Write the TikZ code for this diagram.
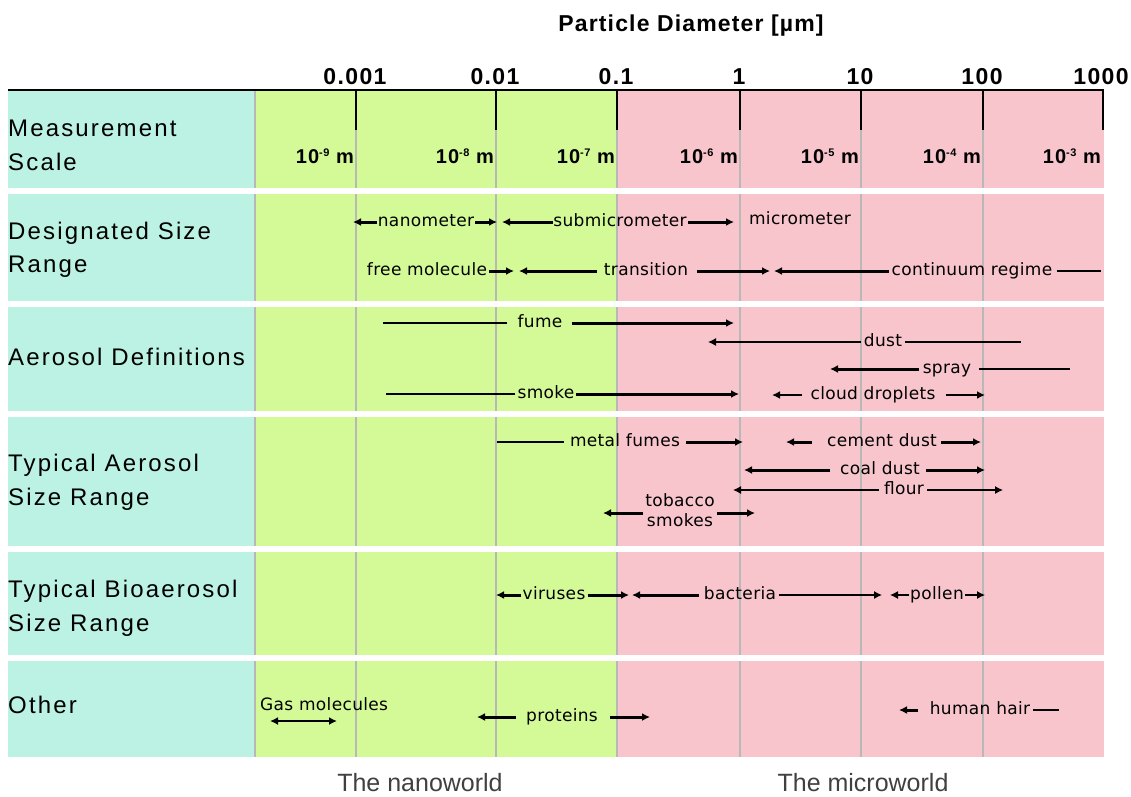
\documentclass[tikz,border=0pt]{standalone}
\usepackage{fontspec}
\usetikzlibrary{arrows.meta}
\newfontfamily\labfont{DejaVu Sans}[LetterSpace=2]
\newfontfamily\rowfont{Liberation Sans}[LetterSpace=9]
\newfontfamily\hdrfont{Liberation Sans}[LetterSpace=6]
\newfontfamily\titlefont{Liberation Sans}[LetterSpace=5]
\newfontfamily\worldfont{Liberation Sans}
\definecolor{cTeal}{HTML}{BCF2E3}
\definecolor{cGreen}{HTML}{D4FA98}
\definecolor{cPink}{HTML}{F8C5CC}
\definecolor{cGrid}{HTML}{B8B8B8}
\begin{document}
\begin{tikzpicture}[x=1pt,y=-1pt,
  >={Latex[length=8pt,width=8pt]},
  lab/.style={font=\labfont\fontsize{17}{20}\selectfont, inner sep=0pt, text height=9.3pt, text depth=0pt},
  labtwo/.style={font=\labfont\fontsize{17}{20}\selectfont, inner sep=0pt, align=center},
  rowlab/.style={font=\rowfont\fontsize{24}{28}\selectfont, inner sep=0pt, anchor=base west},
  ticklab/.style={font=\hdrfont\bfseries\fontsize{23}{26}\selectfont, inner sep=0pt, anchor=base},
  meas/.style={font=\titlefont\bfseries\fontsize{20}{22}\selectfont, inner sep=0pt, anchor=base east},
  world/.style={font=\worldfont\fontsize{25}{28}\selectfont, text=black!75, inner sep=0pt},
  thk/.style={line width=3pt}, med/.style={line width=2pt}, thn/.style={line width=1.2pt},
  gridline/.style={cGrid, line width=1.2pt}]
\useasboundingbox (0,0) rectangle (1131,796);
\fill[white] (0,0) rectangle (1131,796);
% rows
\foreach \t/\b in {90/188,194/301,307/411,417/546,552/655,661/757}{
  \fill[cTeal] (8,\t) rectangle (255,\b);
  \fill[cGreen] (255,\t) rectangle (617,\b);
  \fill[cPink] (617,\t) rectangle (1104,\b);
  \foreach \x in {255,356,496,617,740,861,983}{
    \draw[gridline] (\x,\t) -- (\x,\b);
  }
}
% top axis
\draw[line width=1.5pt] (8,90) -- (1104,90);
\foreach \x in {356,496,617,740,861,983,1103}{
  \draw[line width=1.5pt] (\x,90) -- (\x,130);
}
\node[font=\titlefont\bfseries\fontsize{23}{26}\selectfont, inner sep=0pt] (title) at (691,26) {Particle Diameter [µm]};
\node[ticklab] (t1) at (355,84) {0.001};
\node[ticklab] (t2) at (495,84) {0.01};
\node[ticklab] (t3) at (616,84) {0.1};
\node[ticklab] (t4) at (739,84) {1};
\node[ticklab] (t5) at (860,84) {10};
\node[ticklab] (t6) at (982,84) {100};
\node[ticklab] (t7) at (1101,84) {1000};
\node[meas] (m1) at (354,163) {10\raisebox{7pt}{\fontsize{11}{11}\selectfont -9} m};
\node[meas] (m2) at (494,163) {10\raisebox{7pt}{\fontsize{11}{11}\selectfont -8} m};
\node[meas] (m3) at (615,163) {10\raisebox{7pt}{\fontsize{11}{11}\selectfont -7} m};
\node[meas] (m4) at (738,163) {10\raisebox{7pt}{\fontsize{11}{11}\selectfont -6} m};
\node[meas] (m5) at (859,163) {10\raisebox{7pt}{\fontsize{11}{11}\selectfont -5} m};
\node[meas] (m6) at (981,163) {10\raisebox{7pt}{\fontsize{11}{11}\selectfont -4} m};
\node[meas] (m7) at (1101,163) {10\raisebox{7pt}{\fontsize{11}{11}\selectfont -3} m};
% row labels
\node[rowlab] (r1a) at (8,136) {Measurement};
\node[rowlab] (r1b) at (8,170) {Scale};
\node[rowlab] (r2a) at (8,239) {Designated Size};
\node[rowlab] (r2b) at (8,272) {Range};
\node[rowlab] (r3a) at (8,365) {Aerosol Definitions};
\node[rowlab] (r4a) at (8,471) {Typical Aerosol};
\node[rowlab] (r4b) at (8,505) {Size Range};
\node[rowlab] (r5a) at (8,597) {Typical Bioaerosol};
\node[rowlab] (r5b) at (8,631) {Size Range};
\node[rowlab] (r6a) at (8,713) {Other};
% ---- Designated size range
\node[lab] (nano) at (426,222) {nanometer};
\coordinate (nanoL) at (353,222); \coordinate (nanoR) at (497,222);
\draw[thk,->] ([xshift=-1pt]nano.west) -- (nanoL);
\draw[thk,->] ([xshift=1pt]nano.east) -- (nanoR);
\node[lab] (submic) at (620,222) {submicrometer};
\coordinate (submicL) at (502,222); \coordinate (submicR) at (734,222);
\draw[thk,->] (submic.west) -- (submicL);
\draw[thk,->] ([xshift=1pt]submic.east) -- (submicR);
\node[lab] (micro) at (800,220) {micrometer};
\node[lab] (free) at (427,271) {free molecule};
\coordinate (freeR) at (514,271);
\draw[thk,->] ([xshift=2pt]free.east) -- (freeR);
\node[lab] (trans) at (646,271) {transition};
\coordinate (transL) at (519,271); \coordinate (transR) at (770,271);
\draw[thk,->] ([xshift=-7pt]trans.west) -- (transL);
\draw[thk,->] ([xshift=9pt]trans.east) -- (transR);
\node[lab] (cont) at (972,271) {continuum regime};
\coordinate (contL) at (774,271); \coordinate (contR) at (1101,271);
\draw[thk,->] ([xshift=-3pt]cont.west) -- (contL);
\draw[thn] ([xshift=4pt]cont.east) -- (contR);
% ---- Aerosol definitions
\node[lab] (fume) at (540,323) {fume};
\coordinate (fumeL) at (383,323); \coordinate (fumeR) at (734,323);
\draw[thn] ([xshift=-10pt]fume.west) -- (fumeL);
\draw[thk,->] ([xshift=9pt]fume.east) -- (fumeR);
\node[lab] (dust) at (883,342) {dust};
\coordinate (dustL) at (708,342); \coordinate (dustR) at (1021,342);
\draw[thn,->] ([xshift=-3pt]dust.west) -- (dustL);
\draw[thn] ([xshift=3pt]dust.east) -- (dustR);
\node[lab] (spray) at (947,369) {spray};
\coordinate (sprayL) at (830,369); \coordinate (sprayR) at (1070,369);
\draw[thk,->] ([xshift=-4pt]spray.west) -- (sprayL);
\draw[thn] ([xshift=8pt]spray.east) -- (sprayR);
\node[lab] (smoke) at (546,394) {smoke};
\coordinate (smokeL) at (386,394); \coordinate (smokeR) at (739,394);
\draw[thn] ([xshift=-2pt]smoke.west) -- (smokeL);
\draw[thk,->] ([xshift=1pt]smoke.east) -- (smokeR);
\node[lab] (cloud) at (873,395) {cloud droplets};
\coordinate (cloudL) at (772,395); \coordinate (cloudR) at (985,395);
\draw[med,->] ([xshift=-8pt]cloud.west) -- (cloudL);
\draw[med,->] ([xshift=10pt]cloud.east) -- (cloudR);
% ---- Typical aerosol size range
\node[lab] (metal) at (625,442) {metal fumes};
\coordinate (metalL) at (497,442); \coordinate (metalR) at (743,442);
\draw[thn] ([xshift=-6pt]metal.west) -- (metalL);
\draw[thk,->] ([xshift=6pt]metal.east) -- (metalR);
\node[lab] (cement) at (882,442) {cement dust};
\coordinate (cementL) at (786,442); \coordinate (cementR) at (981,442);
\draw[thk,->] ([xshift=-15pt]cement.west) -- (cementL);
\draw[thk,->] ([xshift=4pt]cement.east) -- (cementR);
\node[lab] (coal) at (880,470) {coal dust};
\coordinate (coalL) at (744,470); \coordinate (coalR) at (985,470);
\draw[thk,->] ([xshift=-10pt]coal.west) -- (coalL);
\draw[thk,->] ([xshift=6pt]coal.east) -- (coalR);
\node[lab] (flour) at (904,490) {flour};
\coordinate (flourL) at (733,490); \coordinate (flourR) at (1003,490);
\draw[thn,->] ([xshift=-5pt]flour.west) -- (flourL);
\draw[thn,->] ([xshift=3pt]flour.east) -- (flourR);
\node[labtwo] (tob) at (680,510) {tobacco\\smokes};
\coordinate (tobL) at (603,513); \coordinate (tobR) at (755,513);
\draw[thk,->] ([xshift=-2pt,yshift=-3pt]tob.west) -- (tobL);
\draw[thk,->] ([xshift=2pt,yshift=-3pt]tob.east) -- (tobR);
% ---- Bioaerosol
\node[lab] (vir) at (554,595) {viruses};
\coordinate (virL) at (496,595); \coordinate (virR) at (629,595);
\draw[thk,->] ([xshift=-1pt]vir.west) -- (virL);
\draw[thk,->] ([xshift=2pt]vir.east) -- (virR);
\node[lab] (bac) at (740,595) {bacteria};
\coordinate (bacL) at (632,595); \coordinate (bacR) at (882,595);
\draw[thk,->] ([xshift=-5pt]bac.west) -- (bacL);
\draw[thn,->] ([xshift=3pt]bac.east) -- (bacR);
\node[lab] (pol) at (937,595) {pollen};
\coordinate (polL) at (890,595); \coordinate (polR) at (985,595);
\draw[thn,->] ([xshift=-1pt]pol.west) -- (polL);
\draw[thn,->] ([xshift=1pt]pol.east) -- (polR);
% ---- Other
\node[lab, anchor=base west] (gas) at (260,710) {Gas molecules};
\coordinate (gasL) at (270,721); \coordinate (gasR) at (337,721);
\draw[med,<->] (gasL) -- (gasR);
\node[lab] (prot) at (562,717) {proteins};
\coordinate (protL) at (477,717); \coordinate (protR) at (650,717);
\draw[thk,->] ([xshift=-10pt]prot.west) -- (protL);
\draw[thk,->] ([xshift=12pt]prot.east) -- (protR);
\node[lab] (hair) at (980,710) {human hair};
\coordinate (hairL) at (899,710); \coordinate (hairR) at (1059,710);
\draw[thk,->] ([xshift=-12pt]hair.west) -- (hairL);
\draw[thn] ([xshift=3pt]hair.east) -- (hairR);
% ---- bottom
\node[world] (nanow) at (420,783) {The nanoworld};
\node[world] (microw) at (863,783) {The microworld};
\end{tikzpicture}
\end{document}
